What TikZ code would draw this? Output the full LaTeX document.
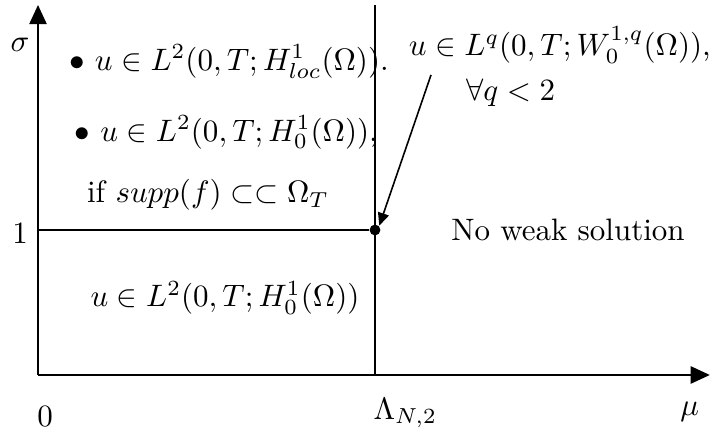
\documentclass[tikz,border=0pt]{standalone}
\usepackage{amsfonts,amsmath,amssymb}
\usepackage{tikz}
\usetikzlibrary{arrows.meta, positioning, calc}

\begin{document}
\begin{tikzpicture}[
    axis/.style={-{Triangle[length=6pt,width=5.4pt]}, line width=0.6pt},
    border/.style={line width=0.5pt},
    arrow/.style={-{Triangle[length=4pt,width=3.5pt]}, line width=0.5pt},
    lbl/.style={inner sep=0pt, scale=0.97},
    pt/.style={circle, fill=black, inner sep=0pt, minimum size=3.4pt}
]
\useasboundingbox (-0.418,-0.682) rectangle (7.414,4.125);

% Axes
\coordinate (o) at (0,0);
\coordinate (ytop) at (0,4.07);
\coordinate (xend) at (7.39,0);
\draw[axis] (o) -- (ytop);
\draw[axis] (o) -- (xend);

% Critical lines
\coordinate (lam) at (3.707,0);
\coordinate (lamtop) at (3.707,4.07);
\coordinate (one) at (0,1.595);
\node[pt] (crit) at (3.707,1.595) {};
\draw[border] (lam) -- (lamtop);
\draw[border] (one) -- (crit);

% Axis labels
\node[lbl] (sigma) at (-0.198,3.63) {$\sigma$};
\node[lbl] (lbl_one) at (-0.198,1.56) {$1$};
\node[lbl] (lbl_zero) at (0.077,-0.462) {$0$};
\node[lbl] (lbl_lam) at (4.04,-0.418) {$\Lambda_{N,2}$};
\node[lbl] (mu) at (7.17,-0.41) {$\mu$};

% Region above
\node[lbl] (reg_loc) at (2.10,3.443) {$\bullet$ $u\in L^2(0,T;H^1_{loc}(\Omega))$.};
\node[lbl] (reg_h0) at (2.07,2.67) {$\bullet$ $u\in L^2(0,T;H^1_0(\Omega))$,};
\node[lbl] (reg_if) at (1.87,1.98) {if $supp(f)\subset\subset\Omega_T$};

% Region below
\node[lbl] (reg_low) at (2.057,0.847) {$u\in L^2(0,T;H^1_0(\Omega))$};

% Right side
\node[lbl] (reg_wq) at (5.74,3.63) {$u\in L^q(0,T;W^{1,q}_0(\Omega))$,};
\node[lbl] (reg_q) at (5.20,3.10) {$\forall q<2$};
\node[lbl] (reg_none) at (5.83,1.595) {No weak solution};

\coordinate (tail) at (4.323,3.30);
\draw[arrow] (tail) -- (crit.north east);

\end{tikzpicture}
\end{document}
